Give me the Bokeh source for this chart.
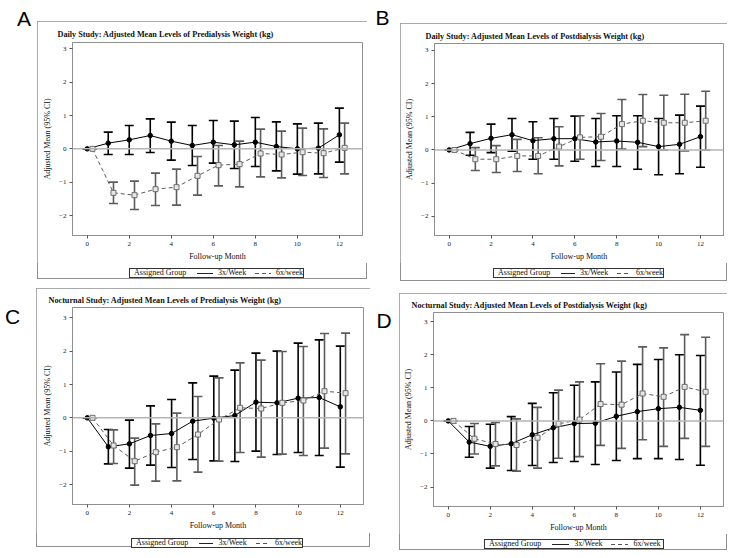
from bokeh.plotting import figure
from bokeh.models import ColumnDataSource, Whisker, TeeHead, Span, Range1d, Div
from bokeh.layouts import column, row
from bokeh.embed import file_html
from bokeh.resources import INLINE

# ---------------- data ----------------
months = [0, 1, 2, 3, 4, 5, 6, 7, 8, 9, 10, 11, 12]
x_ticks = [0, 2, 4, 6, 8, 10, 12]
y_ticks = [-2, -1, 0, 1, 2, 3]
group_labels = ["3x/Week", "6x/week"]
legend_title = "Assigned Group"
x_label = "Follow-up Month"
y_label = "Adjusted Mean (95% CI)"
panel_letters = ["A", "B", "C", "D"]

title_a = "Daily Study: Adjusted Mean Levels of Predialysis Weight (kg)"
a_3x_mean = [0, 0.17, 0.27, 0.40, 0.23, 0.10, 0.20, 0.12, 0.20, 0.07, 0.00, 0.02, 0.42]
a_3x_upper = [0, 0.50, 0.70, 0.90, 0.80, 0.70, 0.85, 0.83, 0.94, 0.81, 0.75, 0.77, 1.22]
a_3x_lower = [0, -0.17, -0.17, -0.11, -0.34, -0.50, -0.43, -0.59, -0.53, -0.66, -0.76, -0.75, -0.40]
a_6x_mean = [0, -1.32, -1.39, -1.21, -1.15, -0.81, -0.49, -0.46, -0.14, -0.17, -0.10, -0.13, 0.03]
a_6x_upper = [0, -1.00, -0.97, -0.73, -0.61, -0.23, 0.10, 0.23, 0.59, 0.53, 0.62, 0.60, 0.77]
a_6x_lower = [0, -1.64, -1.82, -1.70, -1.69, -1.39, -1.11, -1.14, -0.84, -0.87, -0.80, -0.86, -0.75]

title_b = "Daily Study: Adjusted Mean Levels of Postdialysis Weight (kg)"
b_3x_mean = [0, 0.19, 0.35, 0.46, 0.28, 0.34, 0.34, 0.24, 0.27, 0.23, 0.10, 0.17, 0.40]
b_3x_upper = [0, 0.53, 0.78, 0.95, 0.85, 0.95, 1.02, 0.95, 1.03, 1.03, 0.95, 1.05, 1.32]
b_3x_lower = [0, -0.16, -0.08, -0.04, -0.28, -0.28, -0.34, -0.50, -0.50, -0.58, -0.75, -0.72, -0.52]
b_6x_mean = [0, -0.28, -0.28, -0.18, -0.18, 0.10, 0.38, 0.40, 0.78, 0.88, 0.82, 0.82, 0.88]
b_6x_upper = [0, 0.07, 0.13, 0.32, 0.37, 0.70, 1.03, 1.10, 1.52, 1.67, 1.65, 1.68, 1.77]
b_6x_lower = [0, -0.62, -0.68, -0.65, -0.72, -0.48, -0.28, -0.32, 0.03, 0.10, 0.00, -0.03, 0.00]

title_c = "Nocturnal Study: Adjusted Mean Levels of Predialysis Weight (kg)"
c_3x_mean = [0, -0.87, -0.78, -0.53, -0.47, -0.10, -0.01, 0.07, 0.47, 0.45, 0.59, 0.61, 0.33]
c_3x_upper = [0, -0.35, -0.07, 0.36, 0.55, 1.05, 1.25, 1.43, 1.94, 2.00, 2.24, 2.34, 2.15]
c_3x_lower = [0, -1.38, -1.51, -1.42, -1.49, -1.25, -1.29, -1.31, -1.00, -1.10, -1.04, -1.13, -1.48]
c_6x_mean = [0, -0.83, -1.30, -1.03, -0.88, -0.50, -0.05, 0.30, 0.28, 0.45, 0.52, 0.80, 0.74]
c_6x_upper = [0, -0.36, -0.61, -0.18, 0.14, 0.64, 1.20, 1.65, 1.73, 1.99, 2.14, 2.53, 2.54]
c_6x_lower = [0, -1.37, -2.02, -1.90, -1.89, -1.63, -1.30, -1.04, -1.18, -1.09, -1.13, -0.91, -1.08]

title_d = "Nocturnal Study: Adjusted Mean Levels of Postdialysis Weight (kg)"
d_3x_mean = [0, -0.64, -0.77, -0.69, -0.42, -0.21, -0.08, -0.07, 0.14, 0.28, 0.37, 0.41, 0.32]
d_3x_upper = [0, -0.17, -0.10, 0.13, 0.53, 0.85, 1.08, 1.18, 1.48, 1.71, 1.86, 2.00, 1.98]
d_3x_lower = [0, -1.10, -1.43, -1.50, -1.35, -1.26, -1.23, -1.32, -1.20, -1.14, -1.14, -1.17, -1.34]
d_6x_mean = [0, -0.54, -0.70, -0.73, -0.51, -0.09, 0.04, 0.51, 0.49, 0.83, 0.73, 1.03, 0.88]
d_6x_upper = [0, -0.08, -0.05, 0.06, 0.41, 0.93, 1.18, 1.73, 1.81, 2.24, 2.21, 2.61, 2.53]
d_6x_lower = [0, -1.00, -1.36, -1.52, -1.43, -1.13, -1.08, -0.74, -0.83, -0.57, -0.77, -0.53, -0.77]

# ---------------- style ----------------
SERIF = "Liberation Serif"
BOX = "#8f8f8f"
GRAY = "#5c5c5c"
OFFSET = 0.25


def legend_div(g):
    w, strip_h, left, top, lw = g["legend"]
    html = (
        '<div style="margin-left:%dpx;margin-top:%dpx;width:%dpx;height:10px;box-sizing:border-box;'
        'border:1px solid #333;display:flex;align-items:center;white-space:nowrap;'
        'font-family:\'Liberation Serif\',serif;font-size:8px;line-height:8px;color:#111;background:#fff">'
        '<span style="margin-left:4px">%s</span>'
        '<span style="display:inline-block;width:17px;height:1px;background:#222;margin:0 5px 0 11px"></span>'
        '<span>%s</span>'
        '<span style="display:inline-block;width:17px;height:1px;margin:0 5px 0 9px;'
        'background:repeating-linear-gradient(to right,#555 0 4px,transparent 4px 7px)"></span>'
        '<span>%s</span></div>'
    ) % (left, top, lw, legend_title, group_labels[0], group_labels[1])
    return Div(text=html, width=w, height=strip_h, margin=0)


def panel(title, m3, u3, l3, m6, u6, l6, g):
    w, h, fl, ft, fr, fb = g["fig"]
    p = figure(width=w, height=h, min_border_left=fl, min_border_top=ft,
               min_border_right=fr, min_border_bottom=fb, margin=0,
               x_range=Range1d(-0.7, 13.1), y_range=Range1d(*g["yr"]),
               output_backend="svg", toolbar_location=None, tools="", title=title)
    p.grid.visible = False
    p.outline_line_color = BOX
    p.background_fill_color = "white"
    p.border_fill_color = "white"

    p.title.text_font = SERIF
    p.title.text_font_style = "bold"
    p.title.text_font_size = "8.2px"
    p.title.text_color = "#111111"
    p.title.align = "left"
    p.title.offset = g["title_offset"]
    p.title.standoff = g["title_standoff"]

    for ax in (p.xaxis[0], p.yaxis[0]):
        ax.axis_line_color = BOX
        ax.major_tick_line_color = "#555555"
        ax.major_tick_out = 3
        ax.major_tick_in = 0
        ax.minor_tick_line_color = None
        ax.major_label_text_font = SERIF
        ax.major_label_text_font_size = "7px"
        ax.major_label_text_color = "#222222"
        ax.axis_label_text_font = SERIF
        ax.axis_label_text_font_size = "8px"
        ax.axis_label_text_font_style = "normal"
        ax.axis_label_text_color = "#111111"
    p.xaxis.ticker = x_ticks
    p.yaxis.ticker = y_ticks
    p.xaxis.axis_label = x_label
    p.yaxis.axis_label = y_label
    p.xaxis.major_label_standoff = 3
    p.xaxis.axis_label_standoff = 3
    p.yaxis.major_label_standoff = 3
    p.yaxis.axis_label_standoff = 4

    p.add_layout(Span(location=0, dimension="width", line_color="#b4b4b4", line_width=1.5))

    x6 = [m + OFFSET for m in months]
    s3 = ColumnDataSource(dict(x=months, y=m3, upper=u3, lower=l3))
    s6 = ColumnDataSource(dict(x=x6, y=m6, upper=u6, lower=l6))

    for src, col in ((s3, "black"), (s6, GRAY)):
        wk = Whisker(base="x", upper="upper", lower="lower", source=src, dimension="height",
                     line_color=col, line_width=1.6,
                     upper_head=TeeHead(size=9, line_color=col, line_width=1.6),
                     lower_head=TeeHead(size=9, line_color=col, line_width=1.6))
        p.add_layout(wk)

    p.line("x", "y", source=s3, line_color="black", line_width=1)
    p.line("x", "y", source=s6, line_color=GRAY, line_width=1, line_dash="4 3")
    p.scatter("x", "y", source=s3, marker="circle", size=4.5, fill_color="black", line_color="black")
    p.scatter("x", "y", source=s6, marker="square", size=5, fill_color="#e6e6e6", line_color="#6e6e6e")

    return column(p, legend_div(g), margin=g["margin"], spacing=0,
                  styles={"outline": "1.5px solid " + BOX, "outline-offset": "-1.5px",
                          "background": "#fff"})


def letter_div(ch, w, h, ml, mt):
    html = ('<div style="font-family:\'Liberation Sans\',Arial,sans-serif;font-size:21px;'
            'line-height:21px;color:#000;margin-left:%gpx;margin-top:%gpx">%s</div>' % (ml, mt, ch))
    return Div(text=html, width=w, height=h, margin=0)


# fig = (width, height, border_left, border_top, border_right, border_bottom)
# legend = (strip width, strip height, box left, box top, box width)
geo_a = dict(fig=(330, 242, 35, 21, 5, 28), yr=(-2.6, 3.19), title_offset=-15, title_standoff=8,
             legend=(330, 16, 92, 2, 175), margin=(13, 0, 0, 0))
geo_b = dict(fig=(327, 240, 34, 20, 4, 27), yr=(-2.58, 3.21), title_offset=-9, title_standoff=6,
             legend=(327, 18, 93, 3, 171), margin=(15, 0, 0, 0))
geo_c = dict(fig=(334, 245, 36, 19, 7, 29), yr=(-2.6, 3.31), title_offset=-24, title_standoff=5,
             legend=(334, 14, 95, 2, 172), margin=(7, 0, 0, 0))
geo_d = dict(fig=(328, 241, 34, 19, 4, 27), yr=(-2.59, 3.28), title_offset=-22, title_standoff=5,
             legend=(328, 16, 85, 3, 180), margin=(12, 0, 0, 0))

pa = panel(title_a, a_3x_mean, a_3x_upper, a_3x_lower, a_6x_mean, a_6x_upper, a_6x_lower, geo_a)
pb = panel(title_b, b_3x_mean, b_3x_upper, b_3x_lower, b_6x_mean, b_6x_upper, b_6x_lower, geo_b)
pc = panel(title_c, c_3x_mean, c_3x_upper, c_3x_lower, c_6x_mean, c_6x_upper, c_6x_lower, geo_c)
pd_ = panel(title_d, d_3x_mean, d_3x_upper, d_3x_lower, d_6x_mean, d_6x_upper, d_6x_lower, geo_d)

row1 = row(letter_div(panel_letters[0], 29, 40, 9, 0), pa,
           letter_div(panel_letters[1], 33, 40, 8.5, -1), pb, spacing=0, margin=0)
row2 = row(letter_div(panel_letters[2], 28, 60, -3, 25), pc,
           letter_div(panel_letters[3], 29, 60, 6.5, 29), pd_, spacing=0, margin=0)
rule = Div(text='<div style="margin-left:242px;margin-top:2px;width:478px;height:1px;background:#7a7a7a"></div>',
           width=720, height=4, margin=0)
layout = column(row1, row2, rule, spacing=0, margin=(8, 0, 0, 8))
open("out.html", "w").write(file_html(layout, INLINE))
